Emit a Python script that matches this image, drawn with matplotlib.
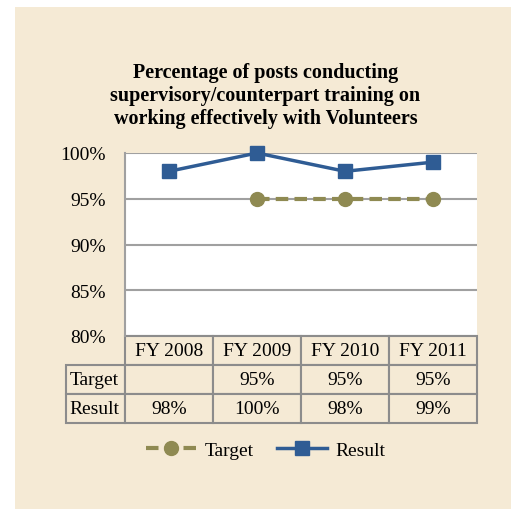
import matplotlib
matplotlib.use("Agg")
import matplotlib.pyplot as plt
from matplotlib.transforms import blended_transform_factory
from matplotlib.patches import Rectangle

# data
years = ["FY 2008", "FY 2009", "FY 2010", "FY 2011"]
target = [None, 0.95, 0.95, 0.95]
result = [0.98, 1.00, 0.98, 0.99]
target_lbl = ["", "95%", "95%", "95%"]
result_lbl = ["98%", "100%", "98%", "99%"]
yticks = [0.80, 0.85, 0.90, 0.95, 1.00]

bg = "#F5EAD5"
blue = "#2F5C94"
olive = "#8F8A52"
grey = "#A0A0A0"
border = "#8C8C8C"

plt.rcParams['font.family'] = ['Liberation Serif', 'DejaVu Serif']

W, H = 511, 510
fig = plt.figure(figsize=(W/100, H/100), dpi=100)
fig.patch.set_facecolor("white")
fig.patches.append(Rectangle((15/W, 0), 1 - 15/W, 1 - 8/H, transform=fig.transFigure,
                             facecolor=bg, edgecolor="none", zorder=-10))

ax = fig.add_axes([125/W, 1 - 337/H, (477-125)/W, (337-154)/H])
ax.set_facecolor("white")
x = list(range(len(years)))

ax.set_xlim(-0.5, 3.5)
ax.set_ylim(0.80, 1.00)
ax.set_yticks(yticks)
ax.set_yticklabels(["%d%%" % round(v*100) for v in yticks], fontsize=14)
ax.tick_params(axis="y", length=0, pad=14)
ax.set_xticks([])
ax.grid(axis="y", color=grey, linewidth=1.5)
ax.set_axisbelow(True)
for s in ["top", "right", "bottom"]:
    ax.spines[s].set_visible(False)
ax.spines["left"].set_color(grey)
ax.spines["left"].set_linewidth(1.5)

tx = [xi for xi, t in zip(x, target) if t is not None]
ty = [t for t in target if t is not None]
ax.plot(tx, ty, color=olive, linewidth=3, linestyle=(0, (3, 1.5)),
        marker="o", markersize=10, label="Target", clip_on=False, zorder=3)
ax.plot(x, result, color=blue, linewidth=2.5, marker="s", markersize=10,
        label="Result", clip_on=False, zorder=4)

# data table below the plot
tr = blended_transform_factory(ax.transData, ax.transAxes)
rh = 29 / (337 - 154)
left = -0.5 - (125 - 66) / 88
kw = dict(transform=tr, clip_on=False, facecolor=bg, edgecolor=border, linewidth=1.5)
rows = [("", years), ("Target", target_lbl), ("Result", result_lbl)]
for r, (name, vals) in enumerate(rows):
    y0 = -rh * (r + 1)
    if r > 0:
        ax.add_patch(Rectangle((left, y0), -0.5 - left, rh, **kw))
        ax.text(left + 0.04, y0 + rh/2, name, transform=tr, fontsize=14,
                ha="left", va="center")
    for i, v in enumerate(vals):
        ax.add_patch(Rectangle((i - 0.5, y0), 1, rh, **kw))
        ax.text(i, y0 + rh/2, v, transform=tr, fontsize=14, ha="center", va="center")

fig.text(0.5 + 10/W, 1 - 96/H,
         "Percentage of posts conducting\nsupervisory/counterpart training on\nworking effectively with Volunteers",
         ha="center", va="center", fontsize=14.5, fontweight="bold", linespacing=1.17)

fig.legend(loc="center", bbox_to_anchor=(0.5 + 10/W, 1 - 451/H), ncol=2, frameon=False,
           fontsize=14, handlelength=2.6, columnspacing=1.2, handletextpad=0.4)

fig.savefig("out.png", dpi=100, facecolor=fig.get_facecolor())
